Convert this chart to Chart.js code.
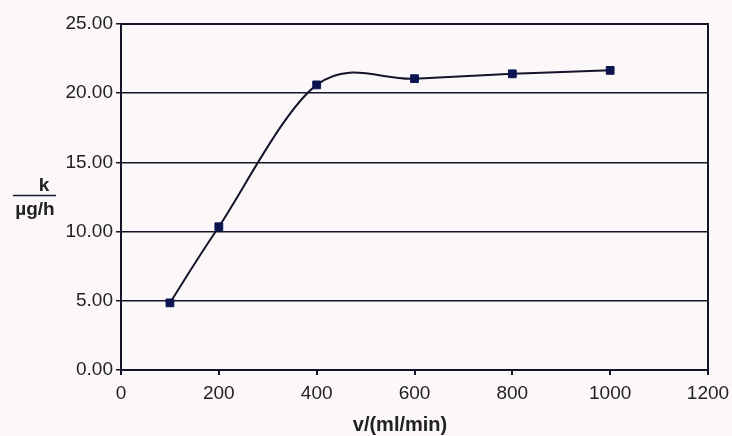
<!DOCTYPE html>
<html>
<head>
<meta charset="utf-8">
<script src="https://cdn.jsdelivr.net/npm/chart.js@4/dist/chart.umd.min.js"></script>
<style>
  html, body { margin: 0; padding: 0; background: #fcf8fa; }
  #wrap { position: relative; width: 732px; height: 436px; }
</style>
</head>
<body>
<div id="wrap"><canvas id="c" width="732" height="436"></canvas></div>
<script>
'use strict';

// measured flow rate v (ml/min) and rate k (µg/h)
const flowRates = [100, 200, 400, 600, 800, 1000];
const kValues = [4.85, 10.35, 20.6, 21.05, 21.4, 21.65];
const xTicks = [0, 200, 400, 600, 800, 1000, 1200];
const yTicks = [0, 5, 10, 15, 20, 25];
const xTitle = 'v/(ml/min)';
const yTitleTop = 'k';
const yTitleBottom = 'µg/h';

const ink = '#14142a';
const font = '"Liberation Sans", Arial, sans-serif';

// spreadsheet-style smoothing: control points at 1/6 of the neighbour chord
const smoothing = {
    id: 'smoothing',
    beforeDatasetDraw (chart, args)
    {
        const meta = args.meta;
        const line = meta.dataset;
        line.updateControlPoints(chart.chartArea, meta.iScale.axis);
        const pts = meta.data;
        pts.forEach((p, i) =>
        {
            const prev = pts[Math.max(i - 1, 0)];
            const next = pts[Math.min(i + 1, pts.length - 1)];
            const dx = (next.x - prev.x) / 6;
            const dy = (next.y - prev.y) / 6;
            p.cp1x = p.x - dx;
            p.cp1y = p.y - dy;
            p.cp2x = p.x + dx;
            p.cp2y = p.y + dy;
        });
    }
};

// frame round the plot area plus the two axis titles
const decorations = {
    id: 'decorations',
    afterDraw (chart)
    {
        const {ctx, chartArea: a} = chart;
        ctx.save();
        ctx.strokeStyle = ink;
        ctx.lineWidth = 2;
        ctx.strokeRect(a.left, a.top, a.right - a.left, a.bottom - a.top);

        ctx.fillStyle = '#222';
        ctx.font = 'bold 20px ' + font;
        ctx.textAlign = 'center';
        ctx.textBaseline = 'middle';
        ctx.fillText(xTitle, 400, 425);

        ctx.font = 'bold 19px ' + font;
        ctx.fillText(yTitleTop, 44, 186);
        ctx.fillText(yTitleBottom, 35, 210);
        ctx.lineWidth = 1.5;
        ctx.beginPath();
        ctx.moveTo(13, 195.5);
        ctx.lineTo(56, 195.5);
        ctx.stroke();
        ctx.restore();
    }
};

new Chart(document.getElementById('c'), {
    type: 'line',
    data: {
        datasets: [{
            data: flowRates.map((x, i) => ({x, y: kValues[i]})),
            borderColor: ink,
            borderWidth: 2,
            tension: 0.4,
            pointStyle: 'rect',
            pointRadius: 5.5,
            pointBackgroundColor: '#0b1450',
            pointBorderColor: '#0b1450',
            pointBorderWidth: 1
        }]
    },
    options: {
        responsive: false,
        animation: false,
        layout: {padding: {left: 0, right: 24, top: 24, bottom: 0}},
        plugins: {legend: {display: false}, tooltip: {enabled: false}},
        scales: {
            x: {
                type: 'linear',
                min: 0,
                max: 1200,
                afterBuildTicks: (s) => { s.ticks = xTicks.map((value) => ({value})); },
                afterFit: (s) => { s.height = 66; s.paddingLeft = 0; s.paddingRight = 0; },
                grid: {drawOnChartArea: false, drawTicks: true, tickLength: 5, color: ink, lineWidth: 2},
                border: {display: true, color: ink, width: 2},
                ticks: {
                    color: '#222',
                    padding: 7,
                    maxRotation: 0,
                    font: {family: font, size: 19},
                    callback: (v) => String(v)
                }
            },
            y: {
                min: 0,
                max: 25,
                afterBuildTicks: (s) => { s.ticks = yTicks.map((value) => ({value})); },
                afterFit: (s) => { s.width = 121; },
                grid: {drawOnChartArea: true, drawTicks: true, tickLength: 5, color: ink, lineWidth: 1.5},
                border: {display: true, color: ink, width: 2},
                ticks: {
                    color: '#222',
                    padding: 3,
                    font: {family: font, size: 19},
                    callback: (v) => Number(v).toFixed(2)
                }
            }
        }
    },
    plugins: [smoothing, decorations]
});
</script>
</body>
</html>
